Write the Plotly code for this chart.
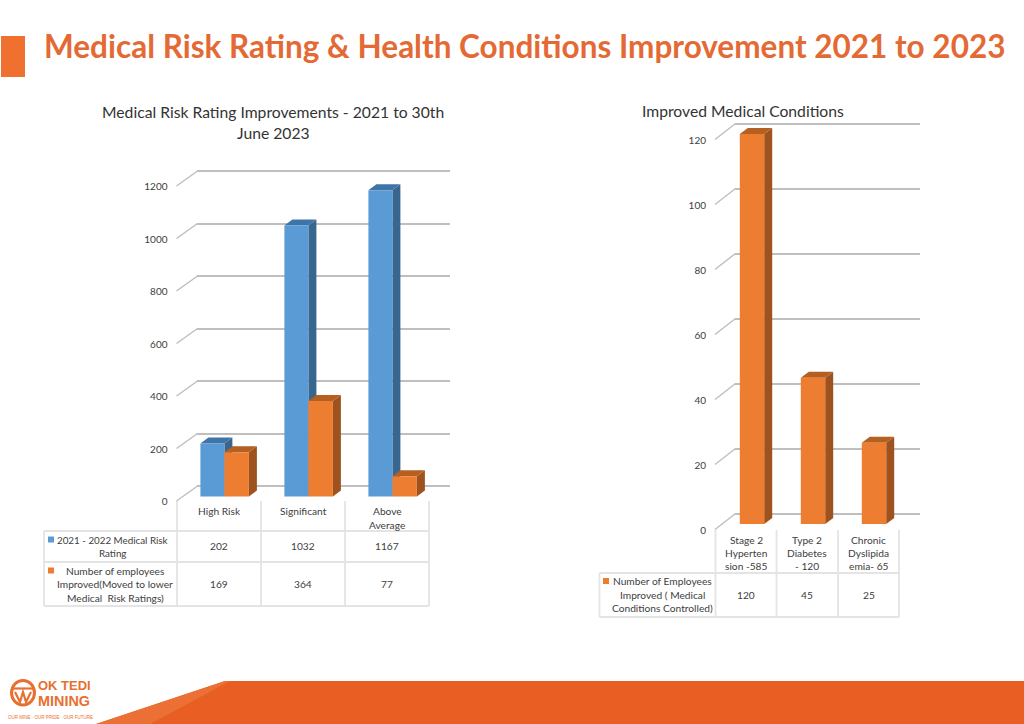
import plotly.graph_objects as go

# ---------- data ----------
risk_categories = [["High Risk"], ["Significant"], ["Above", "Average"]]
risk_rated = [202, 1032, 1167]
risk_improved = [169, 364, 77]
risk_rated_label = ["2021 - 2022 Medical Risk", "Rating"]
risk_improved_label = ["Number of employees", "Improved(Moved to lower", "Medical  Risk Ratings)"]
risk_ticks = [0, 200, 400, 600, 800, 1000, 1200]

cond_categories = [["Stage 2", "Hyperten", "sion -585"], ["Type 2", "Diabetes", "- 120"], ["Chronic", "Dyslipida", "emia- 65"]]
cond_improved = [120, 45, 25]
cond_label = ["Number of Employees", "Improved ( Medical", "Conditions Controlled)"]
cond_ticks = [0, 20, 40, 60, 80, 100, 120]

title = "Medical Risk Rating & Health Conditions Improvement 2021 to 2023"
risk_title = ["Medical Risk Rating Improvements - 2021 to 30th", "June 2023"]
cond_title = "Improved Medical Conditions"

# ---------- style ----------
W, H = 1024, 724
FONT = "Lato"
TXT = "#404040"
GRID = "#BFBFBF"
TBL = "#E4E4E4"
BLUE, BLUE_SIDE, BLUE_TOP = "#5B9BD5", "#37668F", "#3F74A6"
ORG, ORG_SIDE, ORG_TOP = "#ED7D31", "#9E531E", "#B55F20"
LOGO = "#E8702F"
LOGO_FONT = "Liberation Sans"
DX, DY = 8, 6  # bar depth in pixels

fig = go.Figure()
annots, shapes = [], []


def px(x):
    return x / W


def py(y):
    return 1 - y / H


def text(x, y, s, size=10.2, color=TXT, **kw):
    annots.append(dict(xref="paper", yref="paper", x=px(x), y=py(y), text=s, showarrow=False,
                       font=dict(family=kw.pop("family", FONT), size=size, color=color),
                       xanchor=kw.pop("xanchor", "center"), yanchor="middle", **kw))


def rect(x0, y0, x1, y1, color):
    shapes.append(dict(type="rect", xref="paper", yref="paper", x0=px(x0), x1=px(x1), y0=py(y0), y1=py(y1),
                       fillcolor=color, line=dict(width=0), layer="above"))


def tline(x0, y0, x1, y1):
    shapes.append(dict(type="line", xref="paper", yref="paper", x0=px(x0), x1=px(x1), y0=py(y0), y1=py(y1),
                       line=dict(color=TBL, width=1.8), layer="below"))


def chart(idx, series, ticks, scale, unit, c0, base_py, wall_py, tick_left, wall_left, wall_right,
          top_py, bot_py, tick_drop, standoff):
    """idx: first axis index. Wall subplot idx holds gridlines and bar depth, subplot idx+1 holds the bar fronts."""
    a, b = idx, idx + 1
    name = lambda n: "" if n == 1 else str(n)
    yspan = [1 - bot_py / H, 1 - top_py / H]
    # wall subplot
    fig.layout[f"xaxis{name(a)}"] = dict(domain=[px(wall_left), px(wall_right)], anchor=f"y{name(a)}", visible=False,
                                         range=[(wall_left - c0) / unit, (wall_right - c0) / unit])
    fig.layout[f"yaxis{name(a)}"] = dict(domain=yspan, anchor=f"x{name(a)}", showline=False, zeroline=False,
                                         range=[(wall_py - bot_py) / scale, (wall_py - top_py) / scale],
                                         tickmode="array", tickvals=ticks, showticklabels=False, ticks="",
                                         showgrid=True, gridcolor=GRID, gridwidth=2)
    # bar-front subplot
    fig.layout[f"xaxis{name(b)}"] = dict(domain=[px(tick_left), px(wall_right)], anchor=f"y{name(b)}", visible=False,
                                         range=[(tick_left - c0) / unit, (wall_right - c0) / unit])
    fig.layout[f"yaxis{name(b)}"] = dict(domain=yspan, anchor=f"x{name(b)}", showline=False, zeroline=False, showgrid=False,
                                         range=[(base_py - bot_py) / scale, (base_py - top_py) / scale],
                                         tickmode="array", tickvals=ticks, ticks="",
                                         ticklabelstandoff=standoff, ticklabelshift=int(round(tick_drop + 0.01)),
                                         tickfont=dict(family=FONT, size=10, color=TXT))
    wall_off = (base_py - wall_py) / scale  # value shift from the bar plane to the wall plane

    for vals, color, side, top, offset, width in series:
        for i, v in enumerate(vals):
            l, r = i + offset, i + offset + width
            ddx, ddy = DX / unit, DY / scale
            sx = [r, r + ddx, r + ddx, r, r]
            sy = [v, v + ddy, ddy, 0, v]
            fig.add_trace(go.Scatter(x=sx, y=[q - wall_off for q in sy], mode="lines", fill="toself", fillcolor=side,
                                     line=dict(width=0, color=side), hoverinfo="skip", showlegend=False,
                                     xaxis=f"x{name(a)}", yaxis=f"y{name(a)}"))
            tx = [l, r, r + ddx, l + ddx, l]
            ty = [v, v, v + ddy, v + ddy, v]
            fig.add_trace(go.Scatter(x=tx, y=[q - wall_off for q in ty], mode="lines", fill="toself", fillcolor=top,
                                     line=dict(width=0, color=top), hoverinfo="skip", showlegend=False,
                                     xaxis=f"x{name(a)}", yaxis=f"y{name(a)}"))
    for vals, color, side, top, offset, width in series:
        fig.add_trace(go.Bar(x=list(range(len(vals))), y=vals, width=width, offset=offset, marker=dict(color=color, line=dict(width=0)),
                             showlegend=False, hoverinfo="skip", xaxis=f"x{name(b)}", yaxis=f"y{name(b)}"))
    # slanted floor/side-wall ticks
    xs, ys = [], []
    for t in ticks:
        xs += [(tick_left + 1 - c0) / unit, (wall_left + 0.5 - c0) / unit, None]
        ys += [t - tick_drop / scale, t + wall_off, None]
    fig.add_trace(go.Scatter(x=xs, y=ys, mode="lines", line=dict(color=GRID, width=1.5), hoverinfo="skip", showlegend=False,
                             xaxis=f"x{name(b)}", yaxis=f"y{name(b)}"))


# ---------- chart 1 ----------
chart(1, [(risk_rated, BLUE, BLUE_SIDE, BLUE_TOP, -24 / 84, 24 / 84),
          (risk_improved, ORG, ORG_SIDE, ORG_TOP, 0, 24.5 / 84)],
      risk_ticks, 0.2625, 84, 224.4, 496.5, 486, 175.5, 197, 450, 165, 512, 4.5, 7)

# ---------- chart 2 ----------
chart(3, [(cond_improved, ORG, ORG_SIDE, ORG_TOP, -12.2 / 61, 24.4 / 61)],
      cond_ticks, 3.25, 61, 752, 524, 513.5, 714, 735, 920, 118, 536, 5.5, 7)

# ---------- table 1 ----------
cols1 = [177, 261, 345, 429]
for c in cols1:
    tline(c, 501, c, 606)
tline(44, 531, 44, 606)
for y in (531, 562, 606):
    tline(44, y, 429, y)
for i, cat in enumerate(risk_categories):
    cx = (cols1[i] + cols1[i + 1]) / 2
    for j, s in enumerate(cat):
        text(cx, 511 + j * 14, s)
    text(cx, 546, str(risk_rated[i]))
    text(cx, 584, str(risk_improved[i]))
for j, s in enumerate(risk_rated_label):
    text(112.5, 539.5 + j * 13.5, s, size=9.8)
for j, s in enumerate(risk_improved_label):
    text(115, 570.5 + j * 13.5, s)
rect(48, 536.5, 54, 542.5, BLUE)
rect(48, 567.5, 54, 573.5, ORG)

# ---------- table 2 ----------
cols2 = [715.5, 776.5, 838, 899]
for c in cols2:
    tline(c, 530, c, 617)
tline(599.5, 573, 599.5, 617)
for y in (573, 617):
    tline(599.5, y, 899, y)
for i, cat in enumerate(cond_categories):
    cx = (cols2[i] + cols2[i + 1]) / 2
    for j, s in enumerate(cat):
        text(cx, 540 + j * 13.2, s)
    text(cx, 595, str(cond_improved[i]))
for j, s in enumerate(cond_label):
    text(662.5, 581 + j * 13.5, s)
rect(603, 578, 609, 584, ORG)

# ---------- titles ----------
text(41.5, 46, f"<b>{title}</b>", size=31.5, color="#E46A35", xanchor="left")
for j, s in enumerate(risk_title):
    text(273, 112.5 + j * 20.5, s, size=15.7, color="#333333")
text(742.5, 110.5, cond_title, size=15.7, color="#333333")
rect(1, 36, 25, 77, "#F0702F")

# ---------- footer ----------
shapes.append(dict(type="path", xref="paper", yref="paper",
                   path=f"M {px(96)} {py(724)} L {px(225)} {py(681)} L {px(1024)} {py(681)} L {px(1024)} {py(724)} Z",
                   fillcolor="#E95F23", line=dict(width=0), layer="above"))
shapes.append(dict(type="path", xref="paper", yref="paper",
                   path=f"M {px(96)} {py(724)} L {px(225)} {py(681)} L {px(230)} {py(681)} L {px(150)} {py(724)} Z",
                   fillcolor="#EC7035", line=dict(width=0), layer="above"))
# logo
shapes.append(dict(type="circle", xref="paper", yref="paper", x0=px(11.5), x1=px(34.5), y0=py(705), y1=py(680.5),
                   fillcolor="rgba(0,0,0,0)", line=dict(color=LOGO, width=3), layer="above"))
shapes.append(dict(type="line", xref="paper", yref="paper", x0=px(12), x1=px(34), y0=py(688.5), y1=py(688.5),
                   line=dict(color=LOGO, width=2.2), layer="above"))
shapes.append(dict(type="path", xref="paper", yref="paper",
                   path=(f"M {px(15)} {py(692)} L {px(20)} {py(702)} L {px(23)} {py(692)} "
                         f"L {px(26)} {py(702)} L {px(31)} {py(692)}"),
                   line=dict(color=LOGO, width=2.2), layer="above"))
text(64, 685, "<b>OK TEDI</b>", size=13, color=LOGO, family=LOGO_FONT)
text(64, 701, "<b>MINING</b>", size=14.4, color=LOGO, family=LOGO_FONT)
text(50, 717, "OUR MINE · OUR PRIDE · OUR FUTURE", size=4.5, color=LOGO, family=LOGO_FONT)

fig.update_layout(width=W, height=H, margin=dict(l=0, r=0, t=0, b=0), paper_bgcolor="white", plot_bgcolor="rgba(0,0,0,0)",
                  barmode="overlay", showlegend=False, annotations=annots, shapes=shapes, font=dict(family=FONT))
fig.write_html("out.html", post_script="document.body.style.margin='0';", config={"displayModeBar": False})
